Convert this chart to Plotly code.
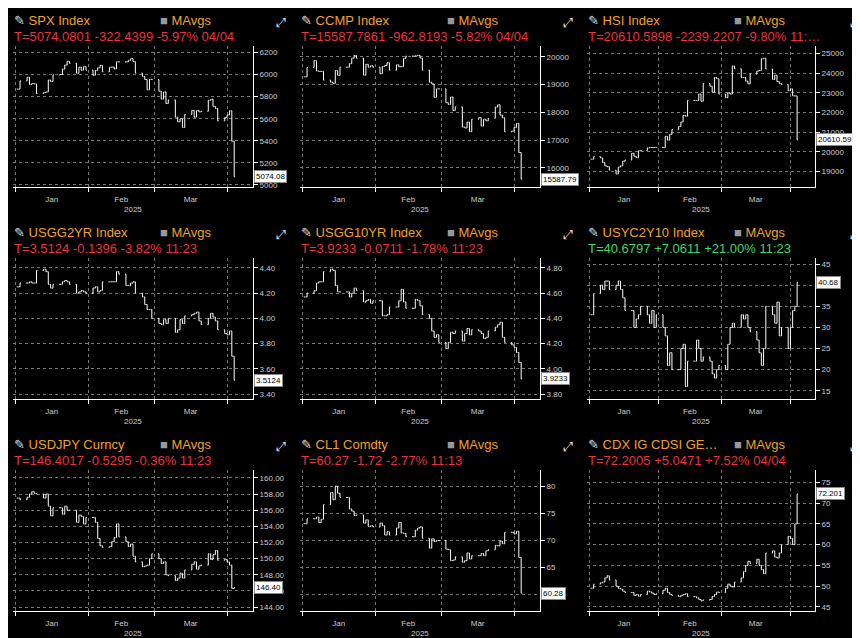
import pandas as pd
import plotly.graph_objects as go
from plotly.subplots import make_subplots

dates = pd.bdate_range('2025-01-02', '2025-04-04')

names = ['SPX Index', 'CCMP Index', 'HSI Index', 'USGG2YR Index', 'USGG10YR Index',
         'USYC2Y10 Index', 'USDJPY Curncy', 'CL1 Comdty', 'CDX IG CDSI GE…']
stats = ['T=5074.0801 -322.4399 -5.97% 04/04', 'T=15587.7861 -962.8193 -5.82% 04/04',
         'T=20610.5898 -2239.2207 -9.80% 11:…', 'T=3.5124 -0.1396 -3.82% 11:23',
         'T=3.9233 -0.0711 -1.78% 11:23', 'T=40.6797 +7.0611 +21.00% 11:23',
         'T=146.4017 -0.5295 -0.36% 11:23', 'T=60.27 -1.72 -2.77% 11:13',
         'T=72.2005 +5.0471 +7.52% 04/04']
last_labels = ['5074.08', '15587.79', '20610.59', '3.5124', '3.9233', '40.68', '146.40', '60.28', '72.201']

spx = [5868,5942,5975,5909,5918,5915,5827,5836,5842,5950,5937,5997,6000,6049,6086,6119,6101,6012,6067,6039,6071,6040,
       5994,6037,6061,6083,6025,6066,6068,6051,6115,6114,6114,6129,6144,6117,6013,5983,5955,5861,5956,5954,
       5849,5778,5842,5738,5770,5614,5572,5599,5521,5639,5675,5614,5675,5662,5667,5767,5776,5712,5693,5580,5611,
       5633,5671,5396,5074]
ccmp = [19280,19622,19864,19490,19478,19478,19162,19088,19044,19511,19338,19630,19630,19757,19955,20053,19954,19342,19733,19632,19681,19627,
        19391,19654,19692,19791,19523,19714,19643,19650,19945,20026,20026,20041,20056,19962,19524,19087,19026,18544,18847,18847,
        18350,18285,18553,18069,18196,17468,17436,17648,17303,17754,17808,17504,17750,17692,17784,18188,18272,17900,17804,17299,17322,
        17450,17601,16550,15588]
hsi = [19623,19760,19688,19447,19280,19240,19064,18874,19219,19286,19522,19584,19926,19778,19700,20052,20066,20198,20225,20225,20225,20225,
       20217,20789,20597,20891,21133,21294,21521,21857,21815,22620,22620,22616,22944,22577,23477,23341,23035,23788,23718,22941,
       22757,23006,22941,24369,24231,23783,23782,23600,23463,23959,24113,24146,24740,24771,24219,23689,23905,23578,23482,23427,23119,
       23206,22849,22850,20610]
us2y = [4.25,4.28,4.28,4.29,4.28,4.28,4.38,4.39,4.37,4.27,4.24,4.27,4.27,4.29,4.30,4.29,4.27,4.20,4.21,4.22,4.21,4.20,
        4.24,4.25,4.21,4.22,4.29,4.29,4.29,4.29,4.37,4.35,4.26,4.26,4.28,4.29,4.20,4.17,4.11,4.07,4.07,4.00,
        3.96,3.95,3.99,3.96,4.00,3.89,3.91,3.99,3.96,4.02,4.03,4.04,4.05,3.98,3.95,4.00,4.04,4.01,3.98,3.91,3.88,
        3.87,3.90,3.70,3.51]
us10y = [4.57,4.60,4.62,4.68,4.69,4.69,4.77,4.79,4.78,4.66,4.61,4.61,4.61,4.57,4.60,4.64,4.62,4.53,4.54,4.55,4.52,4.54,
         4.54,4.42,4.42,4.43,4.49,4.49,4.54,4.63,4.53,4.48,4.48,4.55,4.54,4.50,4.43,4.40,4.30,4.25,4.27,4.21,
         4.16,4.21,4.29,4.28,4.30,4.22,4.28,4.32,4.27,4.31,4.30,4.28,4.24,4.25,4.30,4.33,4.35,4.37,4.25,4.21,4.19,
         4.17,4.13,4.05,3.92]
curve = [33,38,40,39,41,41,39,40,41,39,37,34,34,30,32,33,35,33,31,34,30,33,
         30,28,21,24,20,20,25,26,16,22,22,27,25,22,23,22,19,18,20,21,
         20,26,30,31,30,33,32,33,30,29,27,24,21,25,35,33,31,36,28,30,25,
         30,34,35,40.7]
usdjpy = [157.5,157.3,157.6,158.0,158.3,158.1,158.0,157.5,158.0,156.5,155.3,156.3,156.3,155.5,156.5,156.0,156.0,154.5,155.4,155.2,154.3,155.1,
          155.1,154.5,152.5,151.6,151.4,151.5,152.1,152.6,154.3,152.7,152.1,151.5,151.8,150.3,149.6,149.0,149.1,149.2,150.0,150.6,
          150.0,149.4,149.6,148.0,147.9,147.3,147.6,148.2,147.6,148.6,149.3,149.6,148.7,149.1,149.2,150.6,149.9,150.5,151.0,149.8,149.9,
          149.6,149.2,146.3,146.4]
cl1 = [73.1,74.0,74.0,74.3,73.3,73.9,76.6,78.8,77.5,80.0,78.7,77.9,77.9,75.8,75.4,74.6,74.7,73.2,73.8,72.6,72.7,72.5,
       73.2,72.7,71.0,71.6,71.0,72.3,73.3,71.4,71.3,70.7,70.7,71.9,72.3,72.5,70.4,68.6,70.3,69.8,70.0,70.0,
       68.4,68.3,66.3,66.4,67.0,66.0,66.3,67.7,66.6,67.2,67.2,67.6,67.2,68.1,68.3,69.1,69.0,69.9,69.4,71.5,71.5,
       71.2,71.7,66.9,60.3]
cdx = [49.5,50.5,50.8,51.0,52.0,52.5,51.5,50.0,49.5,49.3,48.8,48.5,48.5,47.8,48.0,47.6,48.0,48.8,48.6,48.3,48.0,48.2,
       49.0,49.5,48.5,48.0,47.8,47.5,47.8,48.0,48.2,47.5,47.5,47.2,46.8,46.5,46.7,46.8,47.5,48.0,48.6,48.5,
       49.5,50.5,50.0,49.8,51.0,52.0,53.5,55.0,56.0,55.5,56.5,55.0,54.0,53.0,58.0,58.5,57.0,56.8,58.0,60.0,62.0,
       61.5,60.0,65.0,72.2]
series = [spx, ccmp, hsi, us2y, us10y, curve, usdjpy, cl1, cdx]

yranges = [(4980, 6260), (15300, 20400), (18200, 25400), (3.36, 4.48), (3.76, 4.88),
           (13, 46.5), (143.5, 161), (57, 83), (44, 78)]
ydticks = [200, 1000, 1000, 0.2, 0.2, 5, 2, 5, 5]
yfmt = ['d', 'd', 'd', '.2f', '.2f', 'd', '.2f', 'd', 'd']

W, H = 860, 638
fig = make_subplots(rows=3, cols=3)
ORANGE = '#f0a030'
RED = '#e8343c'
GREEN = '#3ed46a'
tickfont = dict(color='#ccc', size=8, family='Arial')

for i, closes in enumerate(series):
    r, c = divmod(i, 3)
    n = i + 1
    opens = [closes[0]] + closes[:-1]
    highs = [max(o, cl) for o, cl in zip(opens, closes)]
    lows = [min(o, cl) for o, cl in zip(opens, closes)]
    fig.add_trace(go.Ohlc(x=dates, open=opens, high=highs, low=lows, close=closes,
                          increasing_line_color='white', decreasing_line_color='white',
                          line_width=1, tickwidth=0.4, showlegend=False, hoverinfo='skip'),
                  row=r + 1, col=c + 1)
    px = 287 * c
    py = 213 * r
    x0 = (px + 5) / W
    x1 = (px + (245 if c < 2 else 233)) / W
    ytop = 1 - (py + 38) / H
    ybot = 1 - (py + 180) / H
    xa = 'xaxis' if n == 1 else f'xaxis{n}'
    ya = 'yaxis' if n == 1 else f'yaxis{n}'
    fig.layout[xa].update(domain=[x0, x1], range=['2024-12-31', '2025-04-12'],
                          rangeslider_visible=False, type='date', dtick='M1',
                          tick0='2025-01-01', ticklabelmode='period', tickformat='%b',
                          showgrid=True, gridcolor='#777', griddash='dot', gridwidth=1,
                          showline=True, linecolor='white', ticks='outside', ticklen=4,
                          tickcolor='white', tickfont=tickfont)
    fig.layout[ya].update(domain=[ybot, ytop], range=list(yranges[i]), side='right',
                          dtick=ydticks[i], tickformat=yfmt[i], showgrid=True,
                          gridcolor='#777', griddash='dot', showline=True, linecolor='white',
                          ticks='outside', ticklen=4, tickcolor='white', zeroline=False,
                          tickfont=tickfont)
    xd = f'x{n} domain' if n > 1 else 'x domain'
    yr = f'y{n}' if n > 1 else 'y'
    # header lines
    fig.add_annotation(xref='paper', yref='paper', x=(px + 4) / W, y=1 - (py + 3) / H,
                       xanchor='left', yanchor='top', showarrow=False,
                       text=f"<span style='color:#ddd'>✎</span> {names[i]}",
                       font=dict(color=ORANGE, size=13, family='Arial'))
    fig.add_annotation(xref='paper', yref='paper', x=(px + 150) / W, y=1 - (py + 3) / H,
                       xanchor='left', yanchor='top', showarrow=False,
                       text="<span style='color:#999'>■</span> MAvgs",
                       font=dict(color=ORANGE, size=13, family='Arial'))
    fig.add_annotation(xref='paper', yref='paper', x=(px + 280) / W, y=1 - (py + 3) / H,
                       xanchor='right', yanchor='top', showarrow=False, text='⤢',
                       font=dict(color='#ddd', size=13))
    fig.add_annotation(xref='paper', yref='paper', x=(px + 4) / W, y=1 - (py + 19) / H,
                       xanchor='left', yanchor='top', showarrow=False, text=stats[i],
                       font=dict(color=GREEN if i == 5 else RED, size=13, family='Arial'))
    fig.add_annotation(xref=xd, yref=yr, x=1.0, y=closes[-1], xanchor='left', yanchor='middle',
                       showarrow=False, text=last_labels[i], bgcolor='white',
                       bordercolor='#888', borderpad=1, xshift=1,
                       font=dict(color='black', size=8, family='Arial'))
    fig.add_annotation(xref=xd, yref='paper', x=0.5, y=1 - (py + 196) / H, yanchor='top',
                       showarrow=False, text='2025', font=tickfont)

fig.update_layout(width=W, height=H, margin=dict(l=0, r=0, t=0, b=0),
                  paper_bgcolor='black', plot_bgcolor='black')
fig.write_html('out.html')
